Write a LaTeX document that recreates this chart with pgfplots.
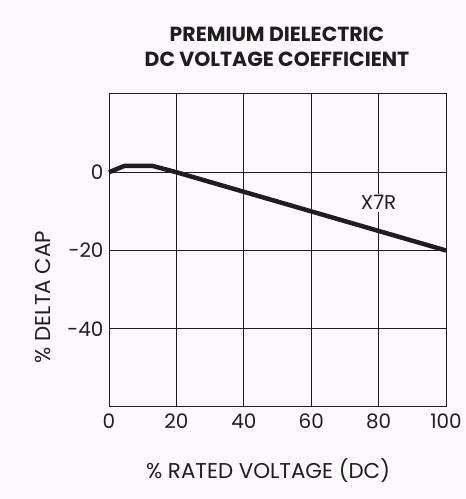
\documentclass[border=0pt]{standalone}
\usepackage{pgfplots}
\pgfplotsset{compat=1.18}
\usepackage{fontspec}
\setmainfont{Poppins}
\definecolor{bg}{RGB}{253,248,253}
\definecolor{ink}{RGB}{30,30,30}
\begin{document}
\begin{tikzpicture}[x=1bp,y=1bp]
  \fill[bg] (0,0) rectangle (466,499);
  \path[use as bounding box] (0,0) rectangle (466,499);
  \begin{axis}[
      at={(109bp,92bp)}, anchor=south west,
      scale only axis,
      width=337bp, height=313bp,
      xmin=0, xmax=100,
      ymin=-60, ymax=20,
      xtick={0,20,40,60,80,100},
      xticklabels={0,20,40,60,80,100},
      ytick={0,-20,-40},
      yticklabels={0,{-20},{-40}},
      major tick length=0pt,
      xmajorgrids=true, ymajorgrids=true,
      grid style={ink, line width=0.9pt},
      axis line style={ink, line width=1pt},
      ticklabel style={font=\fontsize{20}{20}\selectfont, text=ink},
      xticklabel style={yshift=-3bp},
      yticklabel style={xshift=-2bp},
      clip=false
    ]
    \addplot[ink, line width=4.5pt, line join=round] coordinates {
      (0,0) (4.5,1.6) (13,1.6) (20,0) (100,-20)
    };
    \node[fill=bg, inner sep=2pt, text=ink, font=\fontsize{20}{20}\selectfont]
      at (axis cs:80,-7.8) {X7R};
  \end{axis}
  \node[align=center, font=\bfseries\fontsize{20.5}{25}\selectfont, text=ink]
    at (277,452) {PREMIUM DIELECTRIC\\DC VOLTAGE COEFFICIENT};
  \node[font=\fontsize{21.5}{21.5}\selectfont, text=ink] at (268,29) {\% RATED VOLTAGE (DC)};
  \node[rotate=90, font=\fontsize{21.5}{21.5}\selectfont, text=ink] at (43,202) {\% DELTA CAP};
\end{tikzpicture}
\end{document}
